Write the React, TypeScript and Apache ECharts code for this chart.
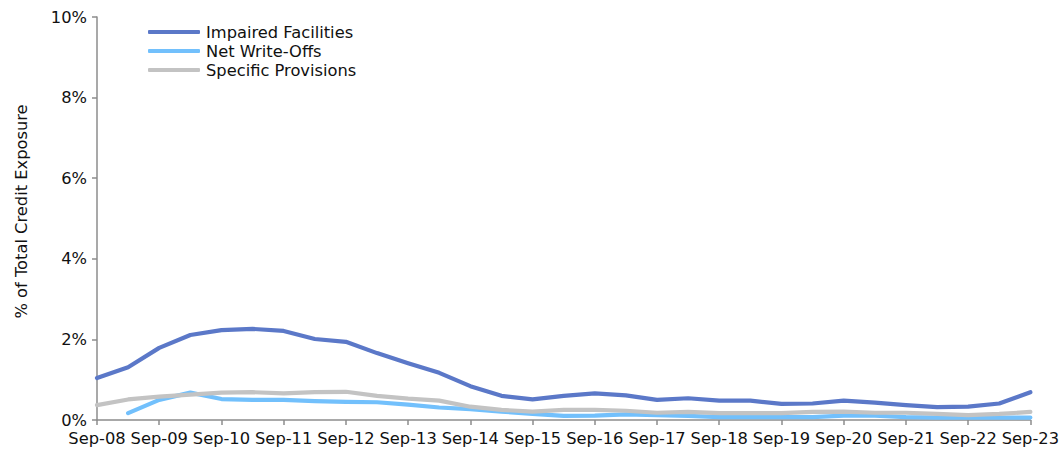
import React, { useEffect, useRef } from "react";
import * as echarts from "echarts";

// Half-yearly observation dates
const periods = [
  "Sep-08", "Mar-09", "Sep-09", "Mar-10", "Sep-10", "Mar-11", "Sep-11", "Mar-12",
  "Sep-12", "Mar-13", "Sep-13", "Mar-14", "Sep-14", "Mar-15", "Sep-15", "Mar-16",
  "Sep-16", "Mar-17", "Sep-17", "Mar-18", "Sep-18", "Mar-19", "Sep-19", "Mar-20",
  "Sep-20", "Mar-21", "Sep-21", "Mar-22", "Sep-22", "Mar-23", "Sep-23",
];

// Shares of total credit exposure, %
const impairedFacilities = [
  1.04, 1.31, 1.79, 2.11, 2.23, 2.26, 2.21, 2.01, 1.94, 1.66, 1.41, 1.17, 0.84, 0.6, 0.51, 0.6,
  0.66, 0.61, 0.5, 0.54, 0.48, 0.48, 0.4, 0.41, 0.48, 0.43, 0.37, 0.32, 0.33, 0.41, 0.69,
];
const netWriteOffs = [
  null, 0.17, 0.5, 0.68, 0.52, 0.5, 0.5, 0.47, 0.45, 0.44, 0.38, 0.31, 0.27, 0.21, 0.15, 0.1,
  0.11, 0.14, 0.12, 0.1, 0.07, 0.07, 0.07, 0.07, 0.11, 0.11, 0.07, 0.06, 0.06, 0.06, 0.06,
];
const specificProvisions = [
  0.37, 0.51, 0.58, 0.63, 0.68, 0.69, 0.66, 0.69, 0.7, 0.6, 0.53, 0.48, 0.33, 0.25, 0.21, 0.25,
  0.25, 0.23, 0.18, 0.2, 0.17, 0.17, 0.17, 0.2, 0.21, 0.18, 0.18, 0.15, 0.12, 0.15, 0.2,
];

const FONT = "'DejaVu Sans', Verdana, sans-serif";
const FONT_SIZE = 16.3;
const TEXT_COLOR = "#111";
const AXIS_GREY = "#8c8c8c";

export default function App() {
  const ref = useRef<HTMLDivElement>(null);

  useEffect(() => {
    if (!ref.current) return;
    const chart = echarts.init(ref.current, undefined, { renderer: "svg" });
    const line = (name: string, data: (number | null)[], color: string) => ({
      name,
      type: "line",
      data,
      symbol: "none",
      connectNulls: false,
      lineStyle: { color, width: 4.2, cap: "round", join: "round" },
      itemStyle: { color },
    });
    chart.setOption({
      animation: false,
      textStyle: { fontFamily: FONT },
      grid: { left: 97, right: 30, top: 17, bottom: 30 },
      legend: {
        orient: "vertical",
        left: 148,
        top: 24,
        padding: 0,
        itemGap: 3,
        itemWidth: 52,
        itemHeight: 4,
        icon: "roundRect",
        textStyle: { fontFamily: FONT, fontSize: FONT_SIZE, color: TEXT_COLOR, padding: [0, 0, 0, 1] },
        data: ["Impaired Facilities", "Net Write-Offs", "Specific Provisions"],
      },
      xAxis: {
        type: "category",
        data: periods,
        boundaryGap: false,
        axisLine: { lineStyle: { color: AXIS_GREY, width: 1.5 } },
        axisTick: { interval: 1, length: 5, lineStyle: { color: AXIS_GREY, width: 1.5 } },
        axisLabel: {
          interval: 1,
          margin: 10,
          fontFamily: FONT,
          fontSize: FONT_SIZE,
          color: TEXT_COLOR,
        },
        splitLine: { show: false },
      },
      yAxis: {
        type: "value",
        min: 0,
        max: 10,
        interval: 2,
        name: "% of Total Credit Exposure",
        nameLocation: "middle",
        nameGap: 68,
        nameTextStyle: { fontFamily: FONT, fontSize: FONT_SIZE, color: TEXT_COLOR, padding: [0, 0, 0, 14] },
        axisLine: { show: true, lineStyle: { color: AXIS_GREY, width: 1.5 } },
        axisTick: { show: true, length: 5, lineStyle: { color: AXIS_GREY, width: 1.5 } },
        axisLabel: {
          margin: 10,
          fontFamily: FONT,
          fontSize: FONT_SIZE,
          color: TEXT_COLOR,
          formatter: (v: number) => `${v}%`,
        },
        splitLine: { show: false },
      },
      series: [
        line("Impaired Facilities", impairedFacilities, "#5b78c8"),
        line("Net Write-Offs", netWriteOffs, "#72c0fc"),
        line("Specific Provisions", specificProvisions, "#c3c3c3"),
      ],
    });
    return () => chart.dispose();
  }, []);

  return (
    <div
      ref={ref}
      style={{ position: "absolute", left: 0, top: 0, width: 1062, height: 450 }}
    />
  );
}
